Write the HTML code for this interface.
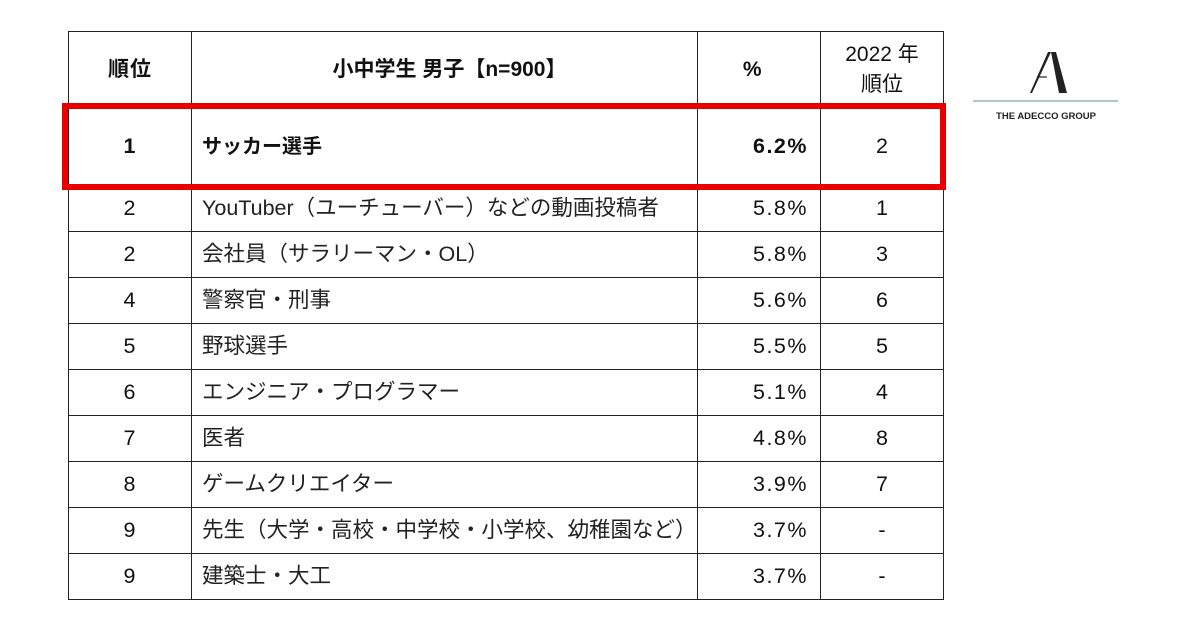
<!DOCTYPE html>
<html><head><meta charset="utf-8"><style>
body{margin:0;width:1200px;height:630px;background:#fff;position:relative;overflow:hidden;font-family:"Liberation Sans","Noto Sans CJK JP",sans-serif;color:#111}
table{position:absolute;left:68px;top:31px;border-collapse:collapse;table-layout:fixed;border-left:1.3px solid #222}
td{border:1.3px solid #222;border-top:none;padding:0;font-size:21.5px;height:46px;box-sizing:border-box;line-height:1;vertical-align:middle}
tr.h td{height:76px;font-weight:bold;font-size:21px;border-top:1.3px solid #222}
tr.r1 td{height:78px;font-weight:bold}
td.c1{width:123px;text-align:center;letter-spacing:1px}
td.c2{width:506px;padding-left:10px;font-weight:normal;color:#222}
td.c3{width:123px;text-align:right;padding-right:12px;letter-spacing:1.5px}
td.c4{width:123px;text-align:center}
tr.h td.c2,tr.h td.c3{text-align:center;font-weight:bold;color:#111}
tr.r1 td.c2{font-weight:bold;font-size:20px;color:#111}
tr.h td.c4{font-weight:normal;line-height:30px}
</style></head><body>
<table>
<tr class="h"><td class="c1">順位</td><td class="c2">小中学生 男子【n=900】</td><td class="c3">%</td><td class="c4">2022 年<br>順位</td></tr>
<tr class="r1"><td class="c1">1</td><td class="c2">サッカー選手</td><td class="c3">6.2%</td><td class="c4" style="font-weight:normal">2</td></tr>
<tr><td class="c1">2</td><td class="c2">YouTuber（ユーチューバー）などの動画投稿者</td><td class="c3">5.8%</td><td class="c4">1</td></tr>
<tr><td class="c1">2</td><td class="c2">会社員（サラリーマン・OL）</td><td class="c3">5.8%</td><td class="c4">3</td></tr>
<tr><td class="c1">4</td><td class="c2">警察官・刑事</td><td class="c3">5.6%</td><td class="c4">6</td></tr>
<tr><td class="c1">5</td><td class="c2">野球選手</td><td class="c3">5.5%</td><td class="c4">5</td></tr>
<tr><td class="c1">6</td><td class="c2">エンジニア・プログラマー</td><td class="c3">5.1%</td><td class="c4">4</td></tr>
<tr><td class="c1">7</td><td class="c2">医者</td><td class="c3">4.8%</td><td class="c4">8</td></tr>
<tr><td class="c1">8</td><td class="c2">ゲームクリエイター</td><td class="c3">3.9%</td><td class="c4">7</td></tr>
<tr><td class="c1">9</td><td class="c2">先生（大学・高校・中学校・小学校、幼稚園など）</td><td class="c3">3.7%</td><td class="c4">-</td></tr>
<tr><td class="c1">9</td><td class="c2">建築士・大工</td><td class="c3">3.7%</td><td class="c4">-</td></tr>
</table>
<div style="position:absolute;left:62px;top:103px;width:872px;height:75px;border:6px solid #e80000"></div>
<svg style="position:absolute;left:970px;top:45px" width="150" height="85">
<polygon points="81,7 78,7 60,48 62,48" fill="#222"/>
<polygon points="81,7 86,7 97,48 89,48" fill="#222"/>
<line x1="67" y1="32" x2="77" y2="32" stroke="#222" stroke-width="1.2"/>
<line x1="3" y1="56" x2="148" y2="56" stroke="#7fa0a8" stroke-width="1.2"/>
<text x="76" y="74" text-anchor="middle" font-family="Liberation Sans" font-weight="bold" font-size="9.5" fill="#222">THE ADECCO GROUP</text>
</svg>
</body></html>
